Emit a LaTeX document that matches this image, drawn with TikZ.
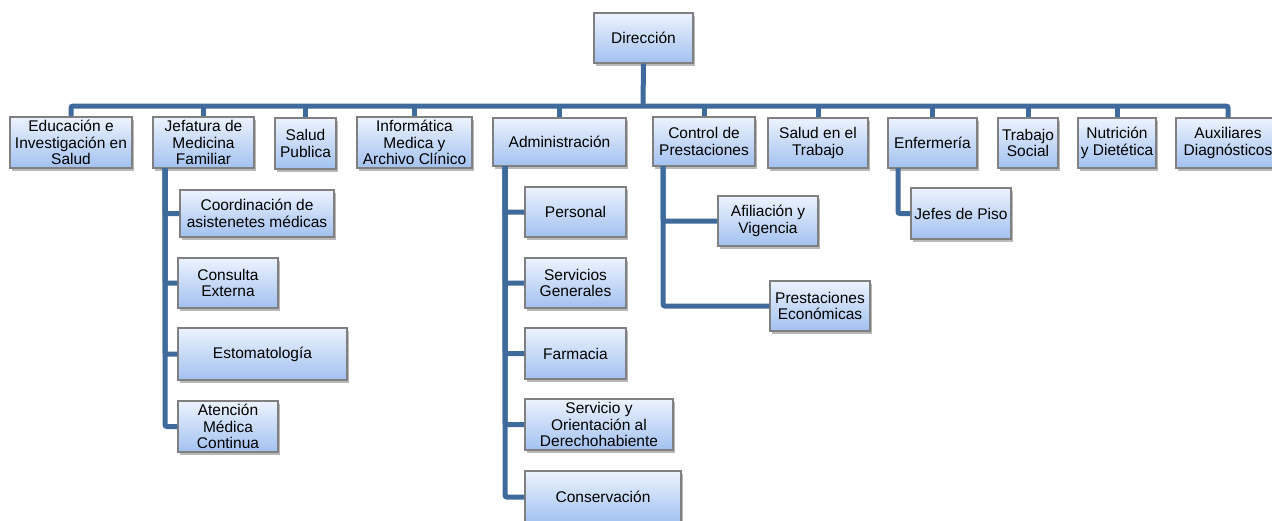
\documentclass[tikz,border=0pt]{standalone}
\usepackage{fontspec}
\setmainfont{Liberation Sans}
\usetikzlibrary{shadows}
\definecolor{linkblue}{RGB}{62,106,156}
\definecolor{boxtop}{RGB}{236,243,254}
\definecolor{boxbot}{RGB}{162,193,240}
\definecolor{boxedge}{RGB}{128,128,128}
\begin{document}
\begin{tikzpicture}[x=1pt,y=-1pt,
  unit/.style={draw=boxedge, line width=1.1pt, top color=boxtop, bottom color=boxbot,
    inner sep=0pt, align=center, text=black,
    font=\fontsize{15.5}{16.6}\selectfont,
    drop shadow={shadow xshift=1.8pt, shadow yshift=-2.6pt, fill=black, opacity=0.28}},
  sz/.style 2 args={minimum width=#1pt, minimum height=#2pt},
  conn/.style={draw=linkblue, line width=5pt, rounded corners=2pt}]
\fill[white] (0,0) rectangle (1272,520);
\useasboundingbox (0,0) rectangle (1272,520);

% junction points of the connector trunks
\coordinate (bus) at (643,106);
\coordinate (jt) at (165,168);
\coordinate (at) at (505,166);
\coordinate (ct) at (663,166);
\coordinate (et) at (898,168);

% head
\node[unit, sz={99}{50}] (dir) at (643.5,38) {Dirección};

% first level
\node[unit, sz={122}{51}] (edu) at (71,142.5) {Educación e\\Investigación en\\Salud};
\node[unit, sz={101}{51}] (jef) at (203.5,142.5) {Jefatura de\\Medicina\\Familiar};
\node[unit, sz={61}{51}] (sp) at (305.5,143.5) {Salud\\Publica};
\node[unit, sz={115}{51}] (inf) at (414.5,142.5) {Informática\\Medica y\\Archivo Clínico};
\node[unit, sz={133}{48}] (adm) at (559.5,142) {Administración};
\node[unit, sz={102}{49}] (cp) at (704,141.5) {Control de\\Prestaciones};
\node[unit, sz={100}{50}] (set) at (818,143) {Salud en el\\Trabajo};
\node[unit, sz={89}{50}] (enf) at (932.5,143) {Enfermería};
\node[unit, sz={60}{50}] (ts) at (1028,143) {Trabajo\\Social};
\node[unit, sz={78}{50}] (nut) at (1117,143) {Nutrición\\y Dietética};
\node[unit, sz={104}{50}] (aux) at (1228,143) {Auxiliares\\Diagnósticos};

% Jefatura de Medicina Familiar
\node[unit, sz={154}{47}] (coo) at (257,213.5) {Coordinación de\\asistenetes médicas};
\node[unit, sz={100}{50}] (con) at (228,283) {Consulta\\Externa};
\node[unit, sz={169}{52}] (est) at (262.5,354) {Estomatología};
\node[unit, sz={100}{51}] (ate) at (228,426.5) {Atención\\Médica\\Continua};

% Administración
\node[unit, sz={101}{50}] (per) at (575.5,212) {Personal};
\node[unit, sz={101}{50}] (sg) at (575.5,283) {Servicios\\Generales};
\node[unit, sz={101}{51}] (far) at (575.5,353.5) {Farmacia};
\node[unit, sz={148}{51}] (sor) at (599,424.5) {Servicio y\\Orientación al\\Derechohabiente};
\node[unit, sz={156}{52}] (cons) at (603,497) {Conservación};

% Control de Prestaciones
\node[unit, sz={100}{50}] (afi) at (768,221) {Afiliación y\\Vigencia};
\node[unit, sz={100}{50}] (pe) at (820,306) {Prestaciones\\Económicas};

% Enfermería
\node[unit, sz={100}{51}] (jp) at (961,213.5) {Jefes de Piso};

% connectors
\draw[conn] (dir.south) -- (bus);
\draw[conn] (edu.north) |- (bus) -| (aux.north);
\foreach \n in {jef,sp,inf,adm,cp,set,enf,ts,nut}
  \draw[conn] (\n.north) -- (\n.north |- bus);

\draw[conn] (jt) |- (coo.west);
\draw[conn] (jt) |- (con.west);
\draw[conn] (jt) |- (est.west);
\draw[conn] (jt) |- (ate.west);

\draw[conn] (at) |- (per.west);
\draw[conn] (at) |- (sg.west);
\draw[conn] (at) |- (far.west);
\draw[conn] (at) |- (sor.west);
\draw[conn] (at) |- (cons.west);

\draw[conn] (ct) |- (afi.west);
\draw[conn] (ct) |- (pe.west);

\draw[conn] (et) |- (jp.west);
\end{tikzpicture}
\end{document}
